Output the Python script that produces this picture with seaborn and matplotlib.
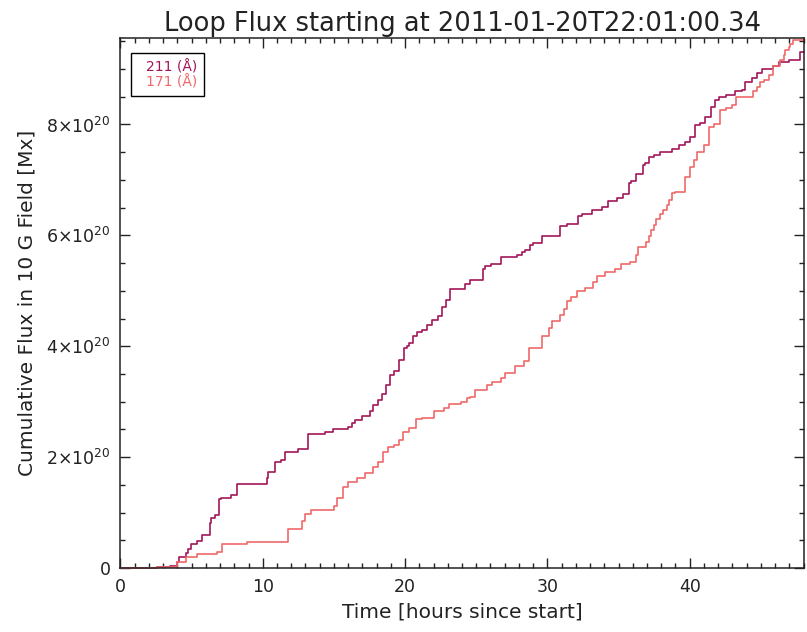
import matplotlib
matplotlib.use("Agg")
import matplotlib.pyplot as plt
import seaborn as sns
import pandas as pd
from matplotlib.ticker import MultipleLocator, FuncFormatter

# hours since start and cumulative flux (units of 1e20 Mx), step curves
t_211 = [0.00, 2.57, 3.48, 3.95, 4.11, 4.61, 4.75, 4.96, 5.38, 5.71, 6.29, 6.36, 6.65, 6.93, 7.07,
         7.77, 8.17, 10.28, 10.37, 10.86, 11.27, 11.57, 12.50, 13.21, 14.38, 14.96, 16.02, 16.26,
         16.49, 16.96, 17.50, 17.74, 18.09, 18.37, 18.67, 18.95, 19.25, 19.54, 19.89, 20.13, 20.25,
         20.55, 20.83, 21.18, 21.53, 21.88, 22.28, 22.59, 22.89, 23.17, 24.23, 24.58, 25.47, 25.63,
         26.03, 26.72, 27.88, 28.21, 28.45, 28.76, 29.01, 29.64, 30.87, 31.38, 32.17, 32.45, 33.14,
         33.81, 34.27, 34.89, 35.32, 35.71, 35.90, 36.25, 36.72, 36.88, 37.17, 37.47, 37.89, 38.76,
         39.23, 39.70, 40.05, 40.40, 40.70, 41.10, 41.53, 41.81, 42.04, 42.58, 43.21, 43.71, 43.92,
         44.39, 44.74, 45.09, 45.87, 46.26, 46.96, 47.74, 48.00]
f_211 = [0.00, 0.02, 0.04, 0.11, 0.19, 0.27, 0.34, 0.43, 0.49, 0.60, 0.81, 0.90, 0.96, 1.24, 1.27,
         1.32, 1.51, 1.62, 1.74, 1.92, 1.95, 2.09, 2.14, 2.42, 2.46, 2.50, 2.55, 2.62,
         2.67, 2.74, 2.84, 2.94, 3.03, 3.14, 3.30, 3.48, 3.55, 3.75, 3.96, 4.00, 4.05,
         4.18, 4.26, 4.29, 4.39, 4.48, 4.54, 4.70, 4.83, 5.03, 5.13, 5.19, 5.39, 5.44,
         5.48, 5.61, 5.65, 5.70, 5.74, 5.83, 5.87, 5.99, 6.16, 6.20, 6.35, 6.38, 6.45,
         6.51, 6.62, 6.68, 6.75, 6.94, 6.98, 7.10, 7.27, 7.31, 7.42, 7.45, 7.51, 7.56,
         7.63, 7.69, 7.77, 7.99, 8.03, 8.14, 8.31, 8.45, 8.50, 8.53, 8.60, 8.62, 8.77,
         8.83, 8.92, 9.00, 9.05, 9.12, 9.17, 9.30, 9.30]

t_171 = [0.00, 2.59, 3.97, 4.61, 5.40, 6.77, 7.12, 8.92, 11.80, 12.74, 12.97, 13.40, 15.01, 15.25,
         15.67, 16.02, 16.63, 17.19, 17.78, 18.07, 18.48, 18.78, 19.23, 19.54, 19.83, 20.24, 20.78,
         21.18, 22.05, 22.70, 23.10, 23.95, 24.37, 24.58, 24.93, 25.75, 26.10, 26.76, 27.04, 27.74,
         28.33, 28.68, 29.62, 30.10, 30.31, 30.91, 31.14, 31.38, 31.65, 32.10, 32.67, 33.19, 33.47,
         34.07, 34.78, 35.20, 35.83, 36.22, 36.36, 36.92, 37.13, 37.31, 37.47, 37.66, 37.94, 38.13,
         38.40, 38.54, 38.76, 38.99, 39.70, 40.05, 40.28, 40.52, 40.99, 41.34, 41.69, 42.16, 42.58,
         42.98, 43.28, 44.46, 44.74, 44.92, 45.20, 45.56, 45.87, 46.38, 46.61, 46.73, 46.96, 47.08,
         47.27, 48.00]
f_171 = [0.00, 0.02, 0.11, 0.20, 0.25, 0.28, 0.43, 0.47, 0.70, 0.85, 0.97, 1.04, 1.12, 1.27,
         1.46, 1.55, 1.62, 1.71, 1.83, 1.92, 2.10, 2.18, 2.22, 2.31, 2.46, 2.53, 2.69,
         2.71, 2.83, 2.88, 2.96, 3.00, 3.06, 3.09, 3.21, 3.30, 3.36, 3.42, 3.51, 3.64,
         3.74, 3.96, 4.18, 4.32, 4.45, 4.57, 4.67, 4.81, 4.89, 4.99, 5.05, 5.16, 5.27,
         5.34, 5.40, 5.49, 5.52, 5.65, 5.79, 5.88, 5.98, 6.10, 6.19, 6.29, 6.38, 6.46,
         6.55, 6.64, 6.76, 6.78, 7.06, 7.24, 7.36, 7.51, 7.63, 7.96, 8.01, 8.26, 8.29,
         8.35, 8.50, 8.60, 8.68, 8.77, 8.81, 8.89, 9.05, 9.17, 9.25, 9.34, 9.40, 9.46,
         9.52, 9.52]

labels = ['211 (Å)', '171 (Å)']
colors = {'211 (Å)': '#a3175a', '171 (Å)': '#f0686a'}

df = pd.concat([
    pd.DataFrame({'Time': t_211, 'Flux': [v * 1e20 for v in f_211], 'Channel': labels[0]}),
    pd.DataFrame({'Time': t_171, 'Flux': [v * 1e20 for v in f_171], 'Channel': labels[1]}),
], ignore_index=True)

sns.set_style('ticks')
plt.rcParams['font.family'] = ['DejaVu Sans']

fig = plt.figure(figsize=(8.07, 6.32), dpi=100)
ax = fig.add_axes([0.1493, 0.1013, 0.8464, 0.8386])

sns.lineplot(data=df, x='Time', y='Flux', hue='Channel', palette=colors,
             estimator=None, sort=False, drawstyle='steps-post', linewidth=1.2,
             legend=False, ax=ax)
for ln in ax.lines:
    ln.set_clip_on(False)

ax.set_xlim(0, 48)
ax.set_ylim(0, 9.56e20)
ax.xaxis.set_major_locator(MultipleLocator(10))
ax.xaxis.set_minor_locator(MultipleLocator(1))
ax.yaxis.set_major_locator(MultipleLocator(2e20))
ax.yaxis.set_minor_locator(MultipleLocator(0.5e20))


def yfmt(v, pos):
    if abs(v) < 1e10:
        return '0'
    return r'$%d{\times}10^{20}$' % round(v / 1e20)


ax.yaxis.set_major_formatter(FuncFormatter(yfmt))
ax.tick_params(which='both', direction='in', top=True, right=True, colors='#222222', width=1.0)
ax.tick_params(which='major', length=7.5, labelsize=12.5, pad=7)
ax.tick_params(which='minor', length=3.8)
for s in ax.spines.values():
    s.set_linewidth(1.1)
    s.set_color('#222222')

ax.set_xlabel('Time [hours since start]', fontsize=14.5, color='#222222', labelpad=5)
ax.set_ylabel('Cumulative Flux in 10 G Field [Mx]', fontsize=14.5, color='#222222', labelpad=7)
ax.set_title('Loop Flux starting at 2011-01-20T22:01:00.34', fontsize=18.5, color='#222222', pad=5)

handles = [plt.Line2D([], [], linestyle='none') for _ in labels]
leg = ax.legend(handles, labels, loc='upper left', handlelength=0, handletextpad=0.6,
                fancybox=False, framealpha=1, edgecolor='black', fontsize=10,
                borderpad=0.5, labelspacing=0.05, bbox_to_anchor=(0.005, 0.985))
leg.get_frame().set_linewidth(1.0)
for txt, lab in zip(leg.get_texts(), labels):
    txt.set_color(colors[lab])

fig.savefig('out.png', dpi=100)
